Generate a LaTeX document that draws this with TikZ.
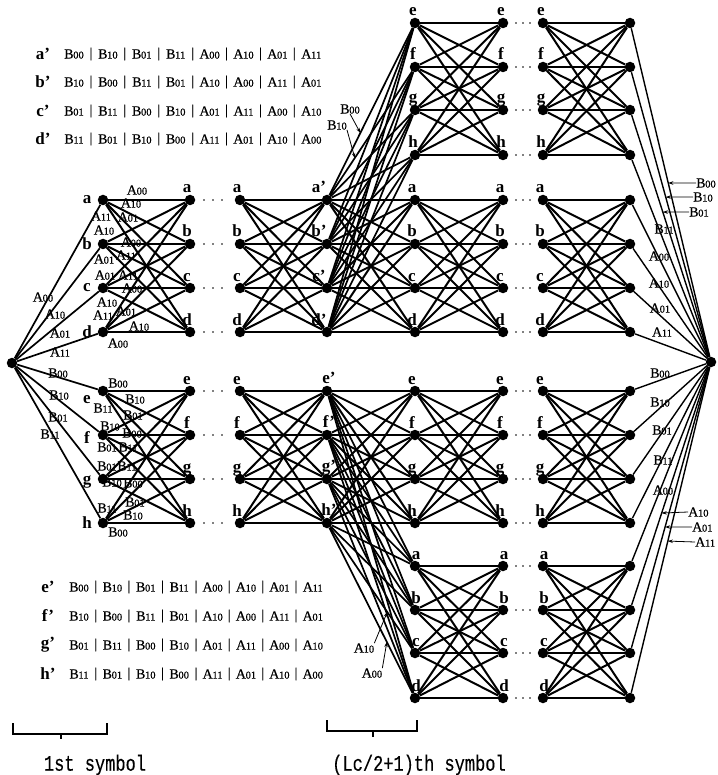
\documentclass[tikz,border=0pt]{standalone}
\usepackage{fontspec}
\usepackage{graphicx}
\setmainfont{Liberation Serif}
\newfontfamily\codefont[FakeBold=0.5]{Liberation Serif}
\newfontfamily\monofont[FakeBold=0.3]{Liberation Mono}
\usetikzlibrary{arrows.meta,calc}

% branch code: capital letter followed by two smaller digits
\newcommand\lb[2]{#1\kern-0.3pt{\fontsize{10.5pt}{10.5pt}\selectfont #2}}

% one row of a branch table: name, first x, y, step, list of letter/digits
\newcommand\coderow[5]{%
  \foreach \p/\q [count=\i from 0] in {#5} {
    \node[code] (#1-\i) at ({#2+\i*#4},#3) {\lb{\p}{\q}};
    \ifnum\i>0 \node[code] (#1-s\i) at ({#2+(\i-0.5)*#4},#3) {|};\fi
  }}

\tikzset{
  dot/.style={circle, fill=black, inner sep=0pt, minimum size=10.5pt},
  br/.style={line width=2pt},
  inl/.style={line width=1.7pt},
  outl/.style={line width=1.4pt},
  code/.style={font=\codefont\fontsize{14pt}{14pt}\selectfont, inner sep=0pt},
  st/.style={font=\bfseries\fontsize{17pt}{17pt}\selectfont, inner sep=0pt, anchor=base},
  ptr/.style={line width=0.8pt, -{Stealth[length=5pt,width=3.5pt]}},
  gap/.style={circle, fill=black, inner sep=0pt, minimum size=1.8pt},
}

\begin{document}
\begin{tikzpicture}[x=1pt,y=-1pt]
\useasboundingbox (0,0) rectangle (717,775);

% ---------- trellis states ----------
\node[dot] (S) at (12,363) {};
\node[dot] (E) at (711,362) {};
\foreach \c/\x in {1/103,2/190,3/240,4/327,5/415,6/503,7/543,8/630}
  \foreach \l/\y in {a/200,b/244,c/288,d/332,e/391,f/435,g/479,h/523}
    \node[dot] (M\c\l) at (\x,\y) {};
\foreach \c/\x in {5/415,6/503,7/543,8/630} {
  \foreach \l/\y in {e/23,f/67,g/110,h/155}
    \node[dot] (T\c\l) at (\x,\y) {};
  \foreach \l/\y in {a/566,b/610,c/653,d/698}
    \node[dot] (U\c\l) at (\x,\y) {};
}

% ---------- branches ----------
\foreach \l in {a,b,c,d,e,f,g,h} \draw[inl] (S) -- (M1\l);
\foreach \c/\n in {1/2,3/4,4/5,5/6,7/8} {
  \foreach \i in {a,b,c,d} \foreach \j in {a,b,c,d} \draw[br] (M\c\i) -- (M\n\j);
  \foreach \i in {e,f,g,h} \foreach \j in {e,f,g,h} \draw[br] (M\c\i) -- (M\n\j);
}
\foreach \c/\n in {5/6,7/8} {
  \foreach \i in {e,f,g,h} \foreach \j in {e,f,g,h} \draw[br] (T\c\i) -- (T\n\j);
  \foreach \i in {a,b,c,d} \foreach \j in {a,b,c,d} \draw[br] (U\c\i) -- (U\n\j);
}
\foreach \i in {a,b,c,d} \foreach \j in {e,f,g,h} \draw[inl] (M4\i) -- (T5\j);
\foreach \i in {e,f,g,h} \foreach \j in {a,b,c,d} \draw[inl] (M4\i) -- (U5\j);
\foreach \l in {e,f,g,h} \draw[outl] (T8\l) -- (E);
\foreach \l in {a,b,c,d,e,f,g,h} \draw[outl] (M8\l) -- (E);
\foreach \l in {a,b,c,d} \draw[outl] (U8\l) -- (E);

% ---------- omitted symbols ----------
\foreach \y in {200,244,288,332,391,435,479,523}
  \foreach \x [count=\k] in {204,213,222} \node[gap] (gl\y-\k) at (\x,\y) {};
\foreach \y in {23,67,110,155,200,244,288,332,391,435,479,523,566,610,653,698}
  \foreach \x [count=\k] in {516,523,530} \node[gap] (gr\y-\k) at (\x,\y) {};

% ---------- state letters ----------
\foreach \l/\y/\d in {a/200/0,b/244/0,c/288/0,d/332/0,e/391/9,f/435/3,g/479/3,h/523/0}
  \node[st, anchor=center] (n1\l) at (87,\y+\d) {\l};
\foreach \c/\x in {2/190,3/240,5/415,6/503,7/543}
  \foreach \l/\y in {a/200,b/244,c/288,d/332,e/391,f/435,g/479,h/523}
    \node[st] (n\c\l) at (\x-3,\y-7) {\l};
\foreach \l/\y in {a/200,b/244,c/288,d/332}
  \node[st] (n4\l) at (319,\y-7) {\l'};
\foreach \l/\y in {e/391,f/435,g/479,h/523}
  \node[st] (n4\l) at (329,\y-8) {\l'};
\foreach \c/\x in {5/415,6/503,7/543} {
  \foreach \l/\y in {e/23,f/67,g/110,h/155}
    \node[st] (m\c\l) at (\x-2,\y-7) {\l};
  \foreach \l/\y in {a/566,b/610,c/653,d/698}
    \node[st] (u\c\l) at (\x+1,\y-7) {\l};
}

% ---------- branch labels at the first symbol ----------
\foreach \t/\d/\x/\y [count=\i] in {
  A/00/43/297, A/10/55/314, A/01/60/333, A/11/60/352,
  B/00/58/373, B/10/59/395, B/01/58/417, B/11/50/434,
  A/00/137/190, A/10/131/203, A/01/128/217, A/11/101/216,
  A/10/104/230, A/00/131/242, A/11/126/255, A/01/104/259,
  A/01/105/275, A/11/128/275, A/00/132/288, A/10/107/302,
  A/11/103/315, A/01/126/311, A/10/139/326, A/00/118/343,
  B/00/118/383, B/10/135/399, B/01/133/415, B/11/103/408,
  B/10/110/426, B/00/132/433, B/11/128/447, B/01/107/447,
  B/01/107/466, B/11/127/466, B/10/112/482, B/00/133/483,
  B/11/107/508, B/01/135/502, B/10/133/515, B/00/118/532}
  \node[code] (bl\i) at (\x,\y) {\lb{\t}{\d}};

% ---------- branch labels at the last symbol ----------
\foreach \t/\d/\x/\y [count=\i] in {
  B/11/664/229, A/00/659/256, A/10/659/283, A/01/660/308, A/11/662/332,
  B/00/660/373, B/10/660/402, B/01/662/430, B/11/663/460, A/00/663/490}
  \node[code] (br\i) at (\x,\y) {\lb{\t}{\d}};

\coordinate (pRB00) at ($(T8e)!0.472!(E)$);
\coordinate (pRB10) at ($(T8f)!0.441!(E)$);
\coordinate (pRB01) at ($(T8g)!0.405!(E)$);
\coordinate (pRA10) at ($(U8b)!0.391!(E)$);
\coordinate (pRA01) at ($(U8c)!0.433!(E)$);
\coordinate (pRA11) at ($(U8d)!0.467!(E)$);
\foreach \t/\d/\x/\y/\p in {B/00/696/183/pRB00, B/10/693/197/pRB10,
                              B/01/689/212/pRB01, A/10/688/512/pRA10,
                              A/01/692/527/pRA01, A/11/695/542/pRA11} {
  \node[code, anchor=west] (r\t\d) at (\x,\y) {\lb{\t}{\d}};
  \draw[ptr] (r\t\d.west) -- (\p);
}

% pointers into the crossing branches
\coordinate (pB00) at ($(M4a)!0.379!(T5e)$);
\coordinate (pB10) at ($(M4a)!0.316!(T5f)$);
\coordinate (pA10) at ($(M4h)!0.685!(U5c)$);
\coordinate (pA00) at ($(M4h)!0.68!(U5d)$);
\node[code] (xB00) at (350,109) {\lb{B}{00}};
\node[code] (xB10) at (337,125) {\lb{B}{10}};
\node[code] (xA10) at (364,648) {\lb{A}{10}};
\node[code] (xA00) at (372,673) {\lb{A}{00}};
\draw[ptr] (xB00.south) -- (pB00);
\draw[ptr] (xB10.south east) -- (pB10);
\draw[ptr] (xA10.north east) -- (pA10);
\draw[ptr] (xA00.north east) -- (pA00);

% ---------- branch tables ----------
\foreach \r/\y in {a/54,b/82,c/111,d/139}
  \node[st, anchor=center] (tl\r) at (43,\y) {\r'};
\coderow{ta}{74}{54}{33.9}{B/00,B/10,B/01,B/11,A/00,A/10,A/01,A/11}
\coderow{tb}{74}{82}{33.9}{B/10,B/00,B/11,B/01,A/10,A/00,A/11,A/01}
\coderow{tc}{74}{111}{33.9}{B/01,B/11,B/00,B/10,A/01,A/11,A/00,A/10}
\coderow{td}{74}{139}{33.9}{B/11,B/01,B/10,B/00,A/11,A/01,A/10,A/00}
\foreach \r/\y in {e/587,f/616,g/645,h/674}
  \node[st, anchor=center] (tl\r) at (48,\y) {\r'};
\coderow{te}{79}{587}{33.4}{B/00,B/10,B/01,B/11,A/00,A/10,A/01,A/11}
\coderow{tf}{79}{616}{33.4}{B/10,B/00,B/11,B/01,A/10,A/00,A/11,A/01}
\coderow{tg}{79}{645}{33.4}{B/01,B/11,B/00,B/10,A/01,A/11,A/00,A/10}
\coderow{th}{79}{674}{33.4}{B/11,B/01,B/10,B/00,A/11,A/01,A/10,A/00}

% ---------- symbol brackets ----------
\draw[line width=1.4pt] (13,723) -- (13,734) -- (107,734) -- (107,723);
\draw[line width=1.4pt] (61,734) -- (61,739);
\draw[line width=1.4pt] (327,720) -- (327,731) -- (417,731) -- (417,720);
\draw[line width=1.4pt] (373,731) -- (373,737);
\node[inner sep=0pt, font=\monofont\fontsize{17pt}{17pt}\selectfont] (sym1) at (95,765)
  {\scalebox{1}[1.3]{1st symbol}};
\node[inner sep=0pt, font=\monofont\fontsize{17pt}{17pt}\selectfont] (sym2) at (419,765)
  {\scalebox{1}[1.3]{(Lc/2+1)th symbol}};
\end{tikzpicture}
\end{document}
